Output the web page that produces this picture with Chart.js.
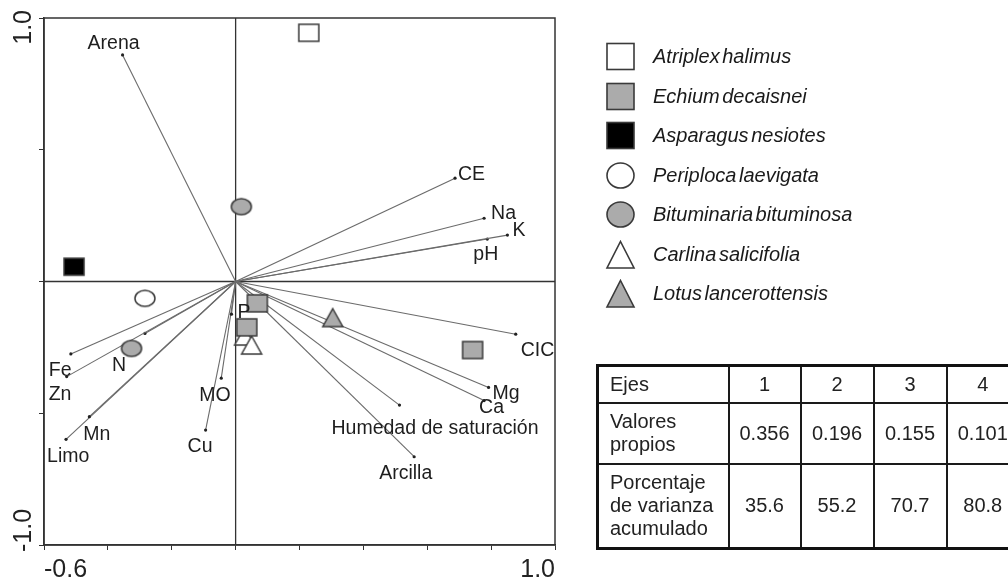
<!DOCTYPE html>
<html>
<head>
<meta charset="utf-8">
<script src="https://cdn.jsdelivr.net/npm/chart.js@4.4.1/dist/chart.umd.min.js"></script>
<style>
  body { margin: 0; width: 1008px; height: 585px; overflow: hidden; background: #fff;
         font-family: "Liberation Sans", Arial, sans-serif; color: #222; }
  #wrap { position: relative; width: 1008px; height: 585px; }
  #plot { position: absolute; left: 0; top: 0; }
  #legend { position: absolute; left: 0; top: 0; }
  .row { position: absolute; left: 605px; height: 30px; }
  .row svg { position: absolute; left: 0; top: 0; }
  .row span { position: absolute; left: 48px; top: 3px; white-space: nowrap;
              font-style: italic; font-size: 20px; word-spacing: -3px; color: #1a1a1a; }
  #tbl { position: absolute; left: 596px; top: 364px; border-collapse: collapse;
         table-layout: fixed; border: 3px solid #111; font-size: 20px; line-height: 23px; }
  #tbl td { border: 2px solid #1a1a1a; text-align: center; padding: 0; color: #222; }
  #tbl td.first { text-align: left; padding-left: 11px; }
</style>
</head>
<body>
<div id="wrap">
  <canvas id="plot" width="1008" height="585"></canvas>
  <div id="legend"></div>
  <table id="tbl"></table>
</div>
<script>
// environmental variables (arrow tips)
var envVars = ['Arena', 'CE', 'Na', 'K', 'pH', 'CIC', 'Mg', 'Ca', 'Humedad de saturación', 'Arcilla',
               'P', 'MO', 'Cu', 'Fe', 'Zn', 'N', 'Mn', 'Limo'];
var envX = [-0.354, 0.687, 0.778, 0.851, 0.788, 0.877, 0.792, 0.778, 0.513, 0.559,
            -0.013, -0.045, -0.094, -0.516, -0.529, -0.284, -0.458, -0.531];
var envY = [0.860, 0.392, 0.240, 0.176, 0.161, -0.200, -0.402, -0.452, -0.469, -0.665,
            -0.124, -0.367, -0.564, -0.275, -0.361, -0.197, -0.513, -0.599];

// species scores
var species = ['Atriplex halimus', 'Echium decaisnei', 'Asparagus nesiotes', 'Periploca laevigata',
               'Bituminaria bituminosa', 'Carlina salicifolia', 'Lotus lancerottensis'];
var speciesX = [[0.229], [0.068, 0.035, 0.742], [-0.506], [-0.284], [0.018, -0.326], [0.028, 0.050], [0.304]];
var speciesY = [[0.944], [-0.083, -0.174, -0.260], [0.056], [-0.064], [0.284, -0.254], [-0.207, -0.241], [-0.137]];

// axis tick labels
var xTickLabels = ['-0.6', '1.0'];
var yTickLabels = ['-1.0', '1.0'];

// table
var tableHeader = ['Ejes', '1', '2', '3', '4'];
var eigenLabel = 'Valores<br>propios';
var eigenvalues = ['0.356', '0.196', '0.155', '0.101'];
var cumLabel = 'Porcentaje<br>de varianza<br>acumulado';
var cumVariance = ['35.6', '55.2', '70.7', '80.8'];

// styling
var markerShapes = ['rect', 'rect', 'rect', 'ellipse', 'ellipse', 'tri', 'tri'];
var markerFills = ['#ffffff', '#ababab', '#000000', '#ffffff', '#ababab', '#ffffff', '#ababab'];
var labelOffsets = [[-35, -11], [3, -4], [7, -5], [5, -4], [-14, 16], [5, 16], [4, 6], [-5, 7], [-68, 24], [-35, 17],
                    [6, -2], [-22, 17], [-18, 17], [-22, 17], [-18, 18], [-33, 32], [-6, 18], [-19, 17]];

function makeMarker(shape, fill, w, h) {
    var c = document.createElement('canvas');
    c.width = w + 4; c.height = h + 4;
    var g = c.getContext('2d');
    g.lineWidth = 1.5;
    g.strokeStyle = '#3a3a3a';
    g.fillStyle = fill;
    g.beginPath();
    if (shape === 'rect') g.rect(2, 2, w, h);
    else if (shape === 'ellipse') g.ellipse(2 + w / 2, 2 + h / 2, w / 2, h / 2, 0, 0, Math.PI * 2);
    else { g.moveTo(2 + w / 2, 2); g.lineTo(2 + w, 2 + h); g.lineTo(2, 2 + h); g.closePath(); }
    g.fill();
    g.stroke();
    return c;
}

var datasets = [];
species.forEach(function (name, i) {
    var pts = speciesX[i].map(function (x, j) { return { x: x, y: speciesY[i][j] }; });
    var w = 20, h = markerShapes[i] === 'tri' ? 18 : (markerShapes[i] === 'ellipse' ? 16 : 17);
    datasets.push({
        label: name,
        data: pts,
        pointStyle: makeMarker(markerShapes[i], markerFills[i], w, h),
        pointRadius: 10,
        pointHoverRadius: 10,
        order: 1
    });
});
envVars.forEach(function (name, i) {
    datasets.push({
        label: name,
        data: [{ x: 0, y: 0 }, { x: envX[i], y: envY[i] }],
        showLine: true,
        borderColor: '#6b6b6b',
        borderWidth: 1.1,
        pointRadius: [0, 1.6],
        pointBackgroundColor: '#222',
        pointBorderWidth: 0,
        order: 2
    });
});

var biplotExtras = {
    id: 'biplotExtras',
    beforeDatasetsDraw: function (chart) {
        var ctx = chart.ctx, a = chart.chartArea;
        var x0 = chart.scales.x.getPixelForValue(0), y0 = chart.scales.y.getPixelForValue(0);
        ctx.save();
        ctx.strokeStyle = '#333';
        ctx.lineWidth = 1.3;
        ctx.beginPath();
        ctx.moveTo(x0, a.top); ctx.lineTo(x0, a.bottom);
        ctx.moveTo(a.left, y0); ctx.lineTo(a.right, y0);
        ctx.stroke();
        ctx.restore();
    },
    afterDatasetsDraw: function (chart) {
        var ctx = chart.ctx, a = chart.chartArea;
        var sx = chart.scales.x, sy = chart.scales.y;
        ctx.save();
        ctx.font = '19.5px "Liberation Sans", Arial, sans-serif';
        ctx.fillStyle = '#1e1e1e';
        ctx.textAlign = 'left';
        ctx.textBaseline = 'middle';
        envVars.forEach(function (name, i) {
            ctx.fillText(name, sx.getPixelForValue(envX[i]) + labelOffsets[i][0],
                               sy.getPixelForValue(envY[i]) + labelOffsets[i][1]);
        });
        // frame
        ctx.strokeStyle = '#333';
        ctx.lineWidth = 1.5;
        ctx.strokeRect(a.left, a.top, a.right - a.left, a.bottom - a.top);
        // rotated y labels
        ctx.font = '25px "Liberation Sans", Arial, sans-serif';
        ctx.fillStyle = '#222';
        ctx.textBaseline = 'middle';
        ctx.translate(24, sy.getPixelForValue(1) - 8);
        ctx.rotate(-Math.PI / 2);
        ctx.textAlign = 'right';
        ctx.fillText(yTickLabels[1], 0, 0);
        ctx.setTransform(1, 0, 0, 1, 0, 0);
        ctx.translate(24, sy.getPixelForValue(-1) + 7);
        ctx.rotate(-Math.PI / 2);
        ctx.textAlign = 'left';
        ctx.fillText(yTickLabels[0], 0, 0);
        ctx.restore();
    }
};

Chart.defaults.font.family = '"Liberation Sans", Arial, sans-serif';

new Chart(document.getElementById('plot'), {
    type: 'scatter',
    data: { datasets: datasets },
    options: {
        responsive: false,
        animation: false,
        devicePixelRatio: 1,
        layout: { padding: { left: 34, top: 18, right: 453, bottom: 0 } },
        plugins: { legend: { display: false }, tooltip: { enabled: false } },
        scales: {
            x: {
                min: -0.6, max: 1.0,
                grid: { drawOnChartArea: false, drawTicks: true, tickLength: 5, color: '#333' },
                border: { color: '#333', width: 1.5 },
                ticks: {
                    stepSize: 0.2, autoSkip: false, maxRotation: 0, align: 'inner', padding: 5,
                    color: '#222', font: { size: 25 },
                    callback: function (v) {
                        if (Math.abs(v + 0.6) < 1e-6) return xTickLabels[0];
                        if (Math.abs(v - 1) < 1e-6) return xTickLabels[1];
                        return '';
                    }
                },
                afterFit: function (s) { s.height = 40; }
            },
            y: {
                min: -1.0, max: 1.0,
                grid: { drawOnChartArea: false, drawTicks: true, tickLength: 5, color: '#333' },
                border: { color: '#333', width: 1.5 },
                ticks: { stepSize: 0.5, display: false },
                afterFit: function (s) { s.width = 10; }
            }
        }
    },
    plugins: [biplotExtras]
});

// legend
var legend = document.getElementById('legend');
species.forEach(function (name, i) {
    var row = document.createElement('div');
    row.className = 'row';
    row.style.top = (42 + i * 39.5) + 'px';
    var shape;
    var st = 'fill="' + markerFills[i] + '" stroke="#3a3a3a" stroke-width="1.6"';
    if (markerShapes[i] === 'rect') shape = '<rect x="2" y="1.5" width="27" height="26" ' + st + '/>';
    else if (markerShapes[i] === 'ellipse') shape = '<ellipse cx="15.5" cy="14.5" rx="13.5" ry="12.5" ' + st + '/>';
    else shape = '<polygon points="15.5,1.5 29,28 2,28" ' + st + '/>';
    row.innerHTML = '<svg width="31" height="30">' + shape + '</svg><span>' + name + '</span>';
    legend.appendChild(row);
});

// table
var colW = [131, 72, 73, 73, 73];
var rowH = [37, 61, 85];
var tbl = document.getElementById('tbl');
var html = '<colgroup>' + colW.map(function (w) { return '<col style="width:' + w + 'px">'; }).join('') + '</colgroup>';
var rows = [
    [tableHeader[0]].concat(tableHeader.slice(1)),
    [eigenLabel].concat(eigenvalues),
    [cumLabel].concat(cumVariance)
];
rows.forEach(function (r, i) {
    html += '<tr style="height:' + rowH[i] + 'px">';
    r.forEach(function (c, j) {
        html += '<td' + (j === 0 ? ' class="first"' : '') + '>' + c + '</td>';
    });
    html += '</tr>';
});
tbl.innerHTML = html;
tbl.style.width = colW.reduce(function (a, b) { return a + b; }, 0) + 'px';
</script>
</body>
</html>
